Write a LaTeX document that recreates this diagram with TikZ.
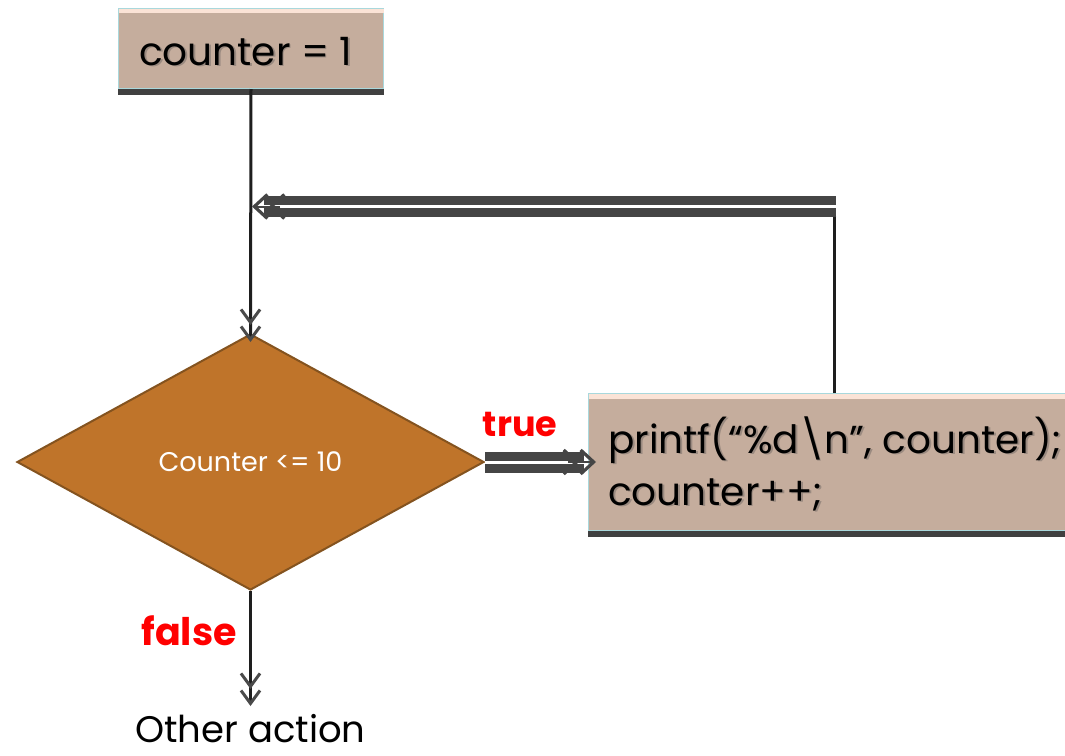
\documentclass[tikz,border=0pt]{standalone}
\usepackage{fontspec}
\setmainfont{Poppins}
\usetikzlibrary{shapes.geometric,arrows.meta,calc}

\definecolor{boxfill}{HTML}{C5AD9D}
\definecolor{boxstrip}{HTML}{FBE3D6}
\definecolor{boxedge}{HTML}{A9D8DC}
\definecolor{boxbar}{HTML}{404040}
\definecolor{decfill}{HTML}{BF742A}
\definecolor{decedge}{HTML}{84531F}
\definecolor{wire}{HTML}{1E1E1E}
\definecolor{wiregray}{HTML}{454545}
\definecolor{tipgray}{HTML}{4A4A4A}
\definecolor{shadowgray}{HTML}{9A8A80}
\definecolor{labelred}{HTML}{FF0000}

% text with a soft offset shadow
\newcommand\shtext[1]{\makebox[0pt][l]{\kern1.8pt\raisebox{-1.8pt}{\textcolor{shadowgray}{#1}}}#1}

\tikzset{
  procbox/.style={draw=boxedge, line width=1pt, fill=boxfill, rectangle, inner sep=0pt},
  boxtext/.style={anchor=base west, inner sep=0pt, font=\fontsize{39}{47}\selectfont, text=black},
  decision/.style={diamond, draw=decedge, line width=2pt, fill=decfill, inner sep=0pt,
    minimum width=467pt, minimum height=256pt, text=white, font=\fontsize{27}{32}\selectfont},
  chev/.style={-{Straight Barb[length=13pt,width=19pt,line width=3pt,color=tipgray]
    Straight Barb[length=13pt,width=19pt,line width=3pt,color=tipgray,sep=-9pt]}},
  flow/.style={draw=wire, line width=3pt, chev},
  dline/.style={draw=wiregray, line width=9pt, double=white, double distance=3pt},
  dtip/.style={draw=wiregray, line width=2pt,
    -{Straight Barb[length=13pt,width=24pt,line width=3.2pt]
      Straight Barb[length=13pt,width=24pt,line width=3.2pt,sep=-8pt]}},
  branch/.style={text=labelred, font=\bfseries, inner sep=0pt}
}

\begin{document}
\begin{tikzpicture}[x=1pt,y=-1pt]
  \clip (0,0) rectangle (1065,755);
  \fill[white] (0,0) rectangle (1065,755);

  % initialisation box
  \node[procbox, minimum width=265pt, minimum height=80pt, anchor=north west] (init) at (118,8) {};
  \fill[boxstrip] ($(init.north west)+(0.5,0.5)$) rectangle ($(init.north east)+(-0.5,5)$);
  \fill[boxbar] (init.south west) rectangle ($(init.south east)+(0,6)$);
  \node[boxtext] (initText) at (139,65) {\shtext{counter = 1}};

  % loop body box
  \node[procbox, minimum width=490pt, minimum height=137pt, anchor=north west] (body) at (588,393) {};
  \fill[boxstrip] ($(body.north west)+(0.5,0.5)$) rectangle ($(body.north east)+(-0.5,6)$);
  \fill[boxbar] (body.south west) rectangle ($(body.south east)+(0,6)$);
  \node[boxtext, align=left] (bodyText) at (608,505)
    {\shtext{printf(“\%d\textbackslash n”, counter);}\\[5pt]\shtext{counter++;}};

  % loop condition
  \node[decision] (dec) at (250.5,462) {Counter <= 10};

  % free ends of the connectors
  \coordinate (loopx) at (834.5,0);
  \coordinate (loopend) at (260,206.5);
  \coordinate (exit) at (250.5,697);

  % connectors
  \draw[flow] (init.south) -- (dec.north);
  \draw[dline] (dec.east) -- ($(body.west)+(-4,0)$);
  \draw[dtip] ($(body.west)+(-20,0)$) -- (body.west);
  \draw[draw=wire, line width=3.5pt] (body.north -| loopx) -- ($(loopend -| loopx)+(0,-4.5)$);
  \draw[dline] ($(loopend -| loopx)+(1.75,0)$) -- ($(loopend)+(4,0)$);
  \draw[dtip] ($(loopend)+(20,0)$) -- (loopend);
  \draw[flow] (dec.south) -- (exit);

  % branch labels and exit action
  \node[branch, anchor=base, font=\fontsize{35}{42}\selectfont\bfseries] (tLabel) at (520,436) {true};
  \node[branch, anchor=base, font=\fontsize{38}{45}\selectfont\bfseries] (fLabel) at (189,645) {false};
  \node[anchor=base, inner sep=0pt, font=\fontsize{37}{44}\selectfont] (other) at (250.5,742) {Other action};
\end{tikzpicture}
\end{document}
